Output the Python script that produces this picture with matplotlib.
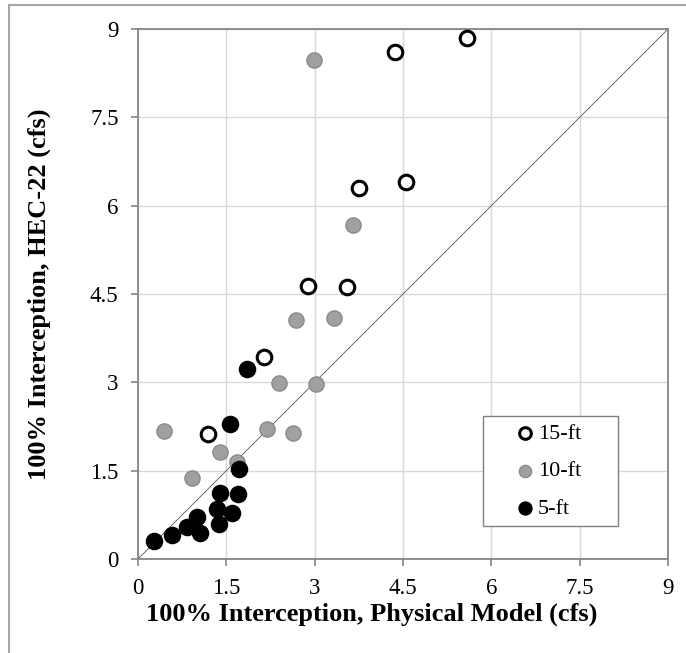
import matplotlib.pyplot as plt
from matplotlib.lines import Line2D

# -----------------------------
# Data (cfs): physical model vs HEC-22
# -----------------------------
x15 = [5.59, 4.36, 4.55, 3.75, 2.88, 3.55, 2.14, 1.19]
y15 = [8.85, 8.61, 6.40, 6.30, 4.64, 4.62, 3.43, 2.13]

x10 = [2.99, 3.65, 2.69, 3.33, 2.40, 3.02, 0.44, 2.19, 2.63, 1.39, 1.68, 0.92]
y10 = [8.47, 5.67, 4.06, 4.10, 2.99, 2.97, 2.18, 2.20, 2.14, 1.82, 1.65, 1.38]

x5 = [1.85, 1.57, 1.72, 1.39, 1.69, 1.34, 1.60, 1.00, 1.38, 0.84, 1.05, 0.58, 0.28]
y5 = [3.23, 2.29, 1.52, 1.12, 1.10, 0.85, 0.78, 0.72, 0.59, 0.55, 0.44, 0.41, 0.31]

ticks = [0, 1.5, 3, 4.5, 6, 7.5, 9]
tick_labels = ["0", "1.5", "3", "4.5", "6", "7.5", "9"]

plt.rcParams["font.family"] = ["Liberation Serif", "DejaVu Serif"]

fig = plt.figure(figsize=(6.86, 6.53), dpi=100)
ax = fig.add_axes([138 / 686, 94 / 653, 530 / 686, 530 / 653])

# grid + 1:1 line
ax.set_axisbelow(True)
ax.grid(True, color="#d9d9d9", lw=1.0)
ax.plot([0, 9], [0, 9], color="#555555", lw=0.6, zorder=1)

ax.scatter(x15, y15, s=110, facecolor="white", edgecolor="black", lw=2.2,
           label="15-ft", zorder=3)
ax.scatter(x10, y10, s=120, facecolor="#a0a0a0", edgecolor="#8a8a8a", lw=1.0,
           label="10-ft", zorder=3)
ax.scatter(x5, y5, s=135, facecolor="black", edgecolor="black", lw=1.0,
           label="5-ft", zorder=3)

ax.set_xlim(0, 9)
ax.set_ylim(0, 9)
ax.set_xticks(ticks)
ax.set_yticks(ticks)
ax.set_xticklabels(tick_labels)
ax.set_yticklabels(tick_labels)
ax.tick_params(direction="out", length=5, width=1.2, color="#868686",
               labelsize=16.5, pad=9)
for sp in ax.spines.values():
    sp.set_color("#868686")
    sp.set_linewidth(1.3)

ax.set_xlabel("100% Interception, Physical Model (cfs)", fontsize=19,
              fontweight="bold")
ax.set_ylabel("100% Interception, HEC-22 (cfs)", fontsize=19,
              fontweight="bold")
ax.xaxis.set_label_coords(0.44, -0.082)
ax.yaxis.set_label_coords(-0.165, 0.5)

leg = ax.legend(loc="upper left", bbox_to_anchor=(0.651, 0.066, 0.255, 0.204),
                mode="expand", fontsize=16, frameon=True, fancybox=False,
                edgecolor="#808080", framealpha=1, borderpad=0.35,
                labelspacing=0.75, handlelength=3.08, handletextpad=-0.95,
                borderaxespad=0, scatterpoints=1, markerscale=0.8)
leg.get_frame().set_linewidth(1.0)

# outer frame lines (top and left)
fig.add_artist(Line2D([9 / 686, 1], [1 - 5 / 653, 1 - 5 / 653],
                      color="#a6a6a6", lw=1.5))
fig.add_artist(Line2D([9 / 686, 9 / 686], [0, 1 - 5 / 653],
                      color="#a6a6a6", lw=1.5))

fig.savefig("out.png", dpi=100)
